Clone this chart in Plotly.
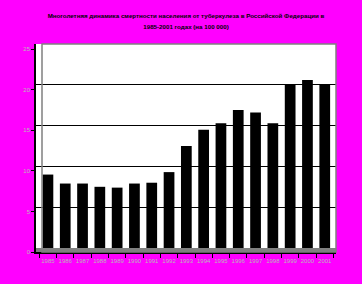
import plotly.graph_objects as go

years = ["1985", "1986", "1987", "1988", "1989", "1990", "1991", "1992", "1993",
         "1994", "1995", "1996", "1997", "1998", "1999", "2000", "2001"]
mortality = [9.0, 7.9, 7.9, 7.5, 7.4, 7.9, 8.0, 9.3, 12.5,
             14.5, 15.3, 16.9, 16.6, 15.3, 20.0, 20.6, 20.0]
y_ticks = [0, 5, 10, 15, 20, 25]

title_l1 = "Многолетняя динамика смертности населения от туберкулеза в Российской Федерации в"
title_l2 = "1985-2001 годах (на 100 000)"

W, H = 362, 284
L, R, T, B = 36, 26, 44, 32

fig = go.Figure()
fig.add_trace(go.Bar(x=years, y=mortality, marker=dict(color="black", line=dict(width=0)),
                     width=0.62, yaxis="y"))
# invisible trace to activate the front (labelled) value axis
fig.add_trace(go.Scatter(x=[years[0]], y=[0], yaxis="y2", mode="markers",
                         marker=dict(opacity=0), hoverinfo="skip", showlegend=False))

fig.update_layout(
    width=W, height=H,
    margin=dict(l=L, r=R, t=T, b=B, pad=0),
    paper_bgcolor="#FF00FF",
    plot_bgcolor="white",
    showlegend=False,
    font=dict(family="Liberation Sans, Arial, sans-serif", size=6, color="black"),
    title=dict(
        text="<b><span style='font-size:6.2px'>" + title_l1 + "</span></b><br><b><span style='font-size:6.2px'>"
             + title_l2 + "</span></b>",
        x=0.5, xanchor="center", xref="paper",
        y=1 - 17.5 / H, yanchor="middle", yref="container",
        font=dict(size=8.5, color="black", family="Liberation Sans, Arial, sans-serif"),
    ),
    xaxis=dict(
        type="category",
        range=[-0.69, 16.65],
        showline=True, linecolor="black", linewidth=1.5,
        ticks="outside", ticklen=4, tickcolor="black", tickwidth=1,
        tickson="boundaries",
        tickangle=0,
        showgrid=False,
        tickfont=dict(size=6, color="#b8b8b8"),
        ticklabelstandoff=2,
    ),
    yaxis=dict(
        range=[-0.49, 25],
        showgrid=True, gridcolor="black", gridwidth=1,
        tickvals=[5, 10, 15, 20],
        showticklabels=False, ticks="",
        showline=False, zeroline=False,
    ),
    yaxis2=dict(
        overlaying="y", side="left", anchor="x",
        range=[0, 25.62],
        tickvals=y_ticks, ticktext=[str(v) for v in y_ticks],
        showline=True, linecolor="black", linewidth=1.5,
        ticks="outside", ticklen=3, tickcolor="black",
        showgrid=False, zeroline=False,
        tickfont=dict(size=6, color="#b8b8b8"),
    ),
    shapes=[
        # grey floor under the bars
        dict(type="rect", xref="paper", yref="y", x0=0, x1=1, y0=-0.49, y1=0,
             fillcolor="#808080", line=dict(width=0), layer="below"),
        # back wall border
        dict(type="rect", xref="paper", yref="paper", x0=6 / 300, x1=1, y0=0, y1=1,
             fillcolor="rgba(0,0,0,0)", line=dict(color="#808080", width=1.5), layer="above"),
    ],
)

fig.write_html("out.html")
